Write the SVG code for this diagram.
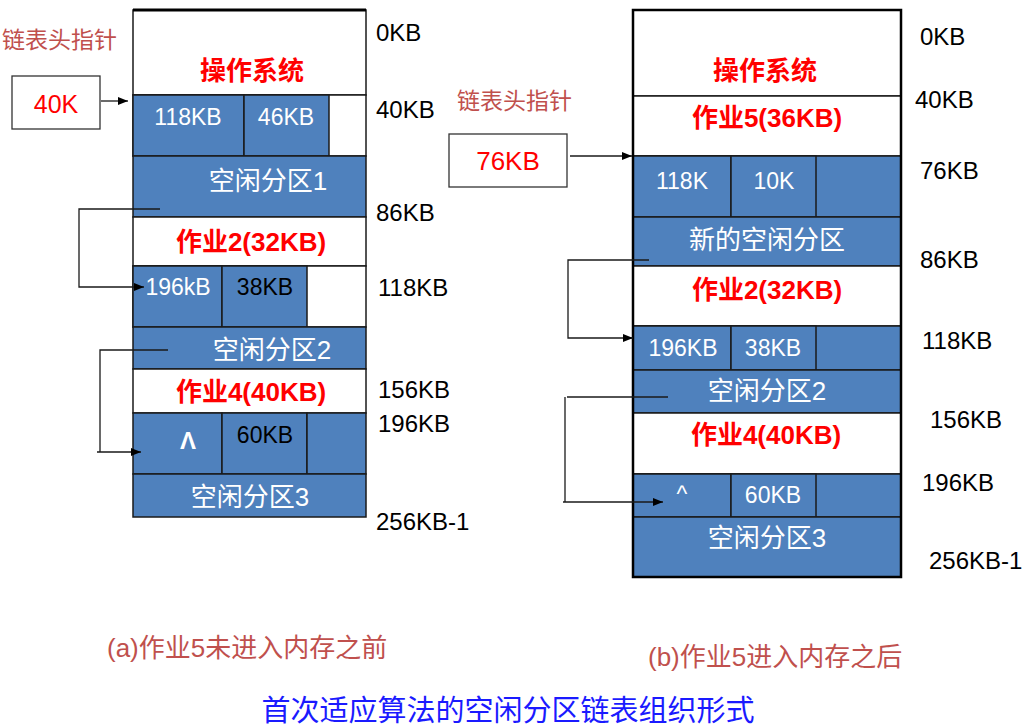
<svg xmlns="http://www.w3.org/2000/svg" width="1022" height="726" viewBox="0 0 1022 726">
<defs>
<marker id="arr" viewBox="0 0 10 10" refX="10" refY="5" markerWidth="10" markerHeight="10" markerUnits="userSpaceOnUse" orient="auto">
<path d="M0,1 L10,5 L0,9 Z" fill="#000"/>
</marker>
<style>
text{font-family:"Liberation Sans","Noto Sans CJK SC",sans-serif;}
.blue{fill:#4f81bd;stroke:#1a1a1a;stroke-width:1.5;}
.white{fill:#fff;stroke:#1a1a1a;stroke-width:1.5;}
.lbl{font-size:24px;fill:#000;}
.cell{font-size:23px;fill:#fff;text-anchor:middle;}
.cellb{font-size:23px;fill:#000;text-anchor:middle;}
.free{font-size:26px;fill:#fff;text-anchor:middle;}
.job{font-size:26px;fill:#ff0000;font-weight:bold;text-anchor:middle;}
.ptr{font-size:23px;fill:#c0504d;}
.cap{font-size:26px;fill:#c0504d;}
.conn{fill:none;stroke:#1a1a1a;stroke-width:1.3;}
</style>
</defs>
<rect width="1022" height="726" fill="#fff"/>

<g id="left-memory">
<rect class="white" x="133" y="10" width="233" height="85"/>
<line x1="133" y1="10" x2="366" y2="10" stroke="#000" stroke-width="3"/>
<text class="job" x="252" y="80">操作系统</text>
<rect class="white" x="133" y="95" width="233" height="61"/>
<rect class="blue" x="133" y="95" width="111" height="61"/>
<rect class="blue" x="244" y="95" width="85" height="61"/>
<text class="cell" x="188" y="125">118KB</text>
<text class="cell" x="286" y="125">46KB</text>
<rect class="blue" x="133" y="156" width="233" height="61"/>
<text class="free" x="268" y="190">空闲分区1</text>
<rect class="white" x="133" y="217" width="233" height="49"/>
<text class="job" x="251" y="251">作业2(32KB)</text>
<rect class="white" x="133" y="266" width="233" height="61"/>
<rect class="blue" x="133" y="266" width="89" height="61"/>
<rect class="blue" x="222" y="266" width="85" height="61"/>
<text class="cell" x="178" y="295">196kB</text>
<text class="cellb" x="265" y="295">38KB</text>
<rect class="blue" x="133" y="327" width="233" height="42"/>
<text class="free" x="272" y="359">空闲分区2</text>
<rect class="white" x="133" y="369" width="233" height="44"/>
<text class="job" x="251" y="401">作业4(40KB)</text>
<rect class="blue" x="133" y="413" width="89" height="61"/>
<rect class="blue" x="222" y="413" width="85" height="61"/>
<rect class="blue" x="307" y="413" width="59" height="61"/>
<text x="188" y="449" font-size="24" font-weight="bold" fill="#fff" text-anchor="middle">Λ</text>
<text class="cellb" x="265" y="443">60KB</text>
<rect class="blue" x="133" y="474" width="233" height="43"/>
<text class="free" x="250" y="506">空闲分区3</text>
</g>

<g id="left-addresses">
<text class="lbl" x="376" y="41" font-size="25">0KB</text>
<text class="lbl" x="376" y="118" font-size="25">40KB</text>
<text class="lbl" x="376" y="221" font-size="23">86KB</text>
<text class="lbl" x="378" y="296" font-size="22">118KB</text>
<text class="lbl" x="378" y="398" font-size="23">156KB</text>
<text class="lbl" x="378" y="432" font-size="23">196KB</text>
<text class="lbl" x="376" y="530" font-size="20">256KB-1</text>
</g>

<g id="left-pointer">
<text class="ptr" x="2" y="48">链表头指针</text>
<rect x="12" y="76" width="88" height="53" fill="#fff" stroke="#333" stroke-width="1.3"/>
<text x="56" y="113" font-size="25" fill="#ff0000" text-anchor="middle">40K</text>
</g>

<g id="right-memory">
<rect class="white" x="633" y="10" width="268" height="86"/>
<text class="job" x="765" y="80">操作系统</text>
<rect class="white" x="633" y="96" width="268" height="60"/>
<text class="job" x="767" y="127">作业5(36KB)</text>
<rect class="blue" x="633" y="156" width="268" height="61"/>
<rect class="blue" x="633" y="156" width="98" height="61"/>
<rect class="blue" x="731" y="156" width="85" height="61"/>
<text class="cell" x="682" y="189" font-size="25">118K</text>
<text class="cell" x="774" y="189" font-size="25">10K</text>
<rect class="blue" x="633" y="217" width="268" height="49"/>
<text class="free" x="767" y="249">新的空闲分区</text>
<rect class="white" x="633" y="266" width="268" height="60"/>
<text class="job" x="767" y="299">作业2(32KB)</text>
<rect class="blue" x="633" y="326" width="268" height="44"/>
<rect class="blue" x="633" y="326" width="98" height="44"/>
<rect class="blue" x="731" y="326" width="85" height="44"/>
<text class="cell" x="683" y="356">196KB</text>
<text class="cell" x="773" y="356">38KB</text>
<rect class="blue" x="633" y="370" width="268" height="43"/>
<text class="free" x="767" y="400" font-size="24">空闲分区2</text>
<rect class="white" x="633" y="413" width="268" height="61"/>
<text class="job" x="766" y="444" font-size="24">作业4(40KB)</text>
<rect class="blue" x="633" y="474" width="268" height="43"/>
<rect class="blue" x="633" y="474" width="98" height="43"/>
<rect class="blue" x="731" y="474" width="85" height="43"/>
<text class="cell" x="682" y="502" font-size="20">^</text>
<text class="cell" x="773" y="503">60KB</text>
<rect class="blue" x="633" y="517" width="268" height="60"/>
<text class="free" x="767" y="547" font-size="24">空闲分区3</text>
<rect x="633" y="10" width="268" height="567" fill="none" stroke="#000" stroke-width="2.5"/>
</g>

<g id="right-addresses">
<text class="lbl" x="920" y="45" font-size="25">0KB</text>
<text class="lbl" x="915" y="108" font-size="26">40KB</text>
<text class="lbl" x="920" y="179" font-size="26">76KB</text>
<text class="lbl" x="920" y="268" font-size="26">86KB</text>
<text class="lbl" x="922" y="349" font-size="25">118KB</text>
<text class="lbl" x="930" y="428" font-size="25">156KB</text>
<text class="lbl" x="922" y="491" font-size="25">196KB</text>
<text class="lbl" x="929" y="569" font-size="22">256KB-1</text>
</g>

<g id="right-pointer">
<text class="ptr" x="457" y="109">链表头指针</text>
<rect x="449" y="134" width="118" height="53" fill="#fff" stroke="#333" stroke-width="1.3"/>
<text x="508" y="170" font-size="26" fill="#ff0000" text-anchor="middle">76KB</text>
</g>

<g id="connectors">
<line class="conn" x1="101" y1="101" x2="128" y2="101" marker-end="url(#arr)"/>
<polyline class="conn" points="160,209 79,209 79,287 144,287" marker-end="url(#arr)"/>
<polyline class="conn" points="168,350 100,350 100,452 97,452 141,452" marker-end="url(#arr)"/>
<line class="conn" x1="570" y1="156" x2="632" y2="156" marker-end="url(#arr)"/>
<polyline class="conn" points="649,260 568,260 568,338 633,338" marker-end="url(#arr)"/>
<polyline class="conn" points="668,397 567,397"/>
<polyline class="conn" points="565,397 565,502"/>
<line class="conn" x1="563" y1="502" x2="663" y2="502" marker-end="url(#arr)"/>
</g>

<g id="captions">
<text class="cap" x="107" y="657">(a)作业5未进入内存之前</text>
<text class="cap" x="648" y="666">(b)作业5进入内存之后</text>
<text x="508" y="721" font-size="29" fill="#1a1aff" text-anchor="middle">首次适应算法的空闲分区链表组织形式</text>
</g>
</svg>
